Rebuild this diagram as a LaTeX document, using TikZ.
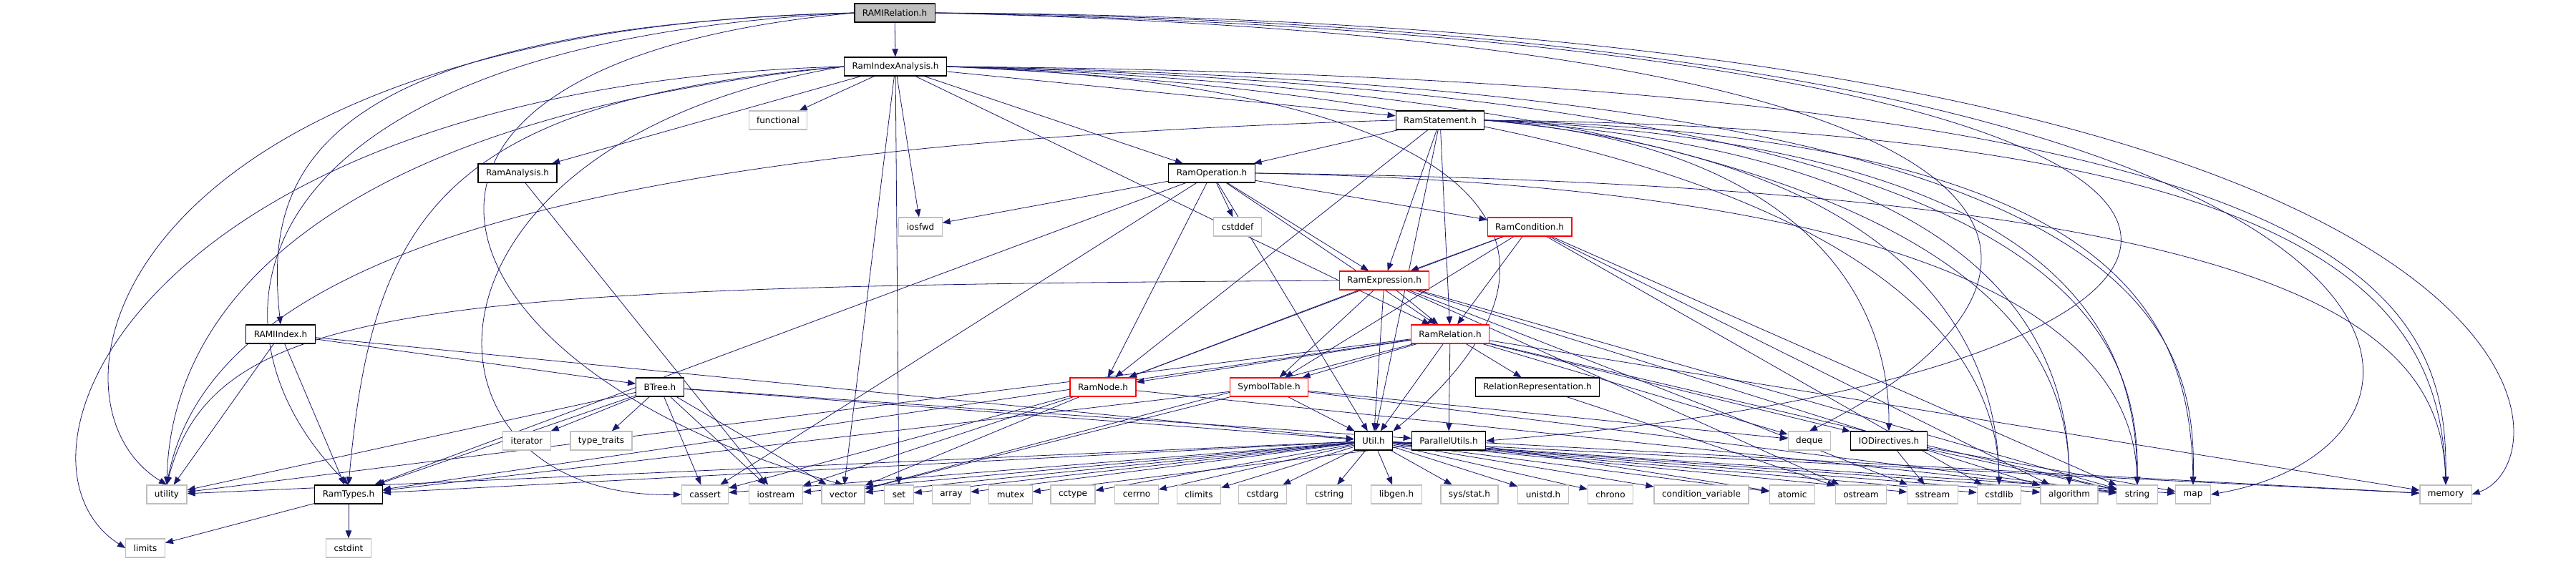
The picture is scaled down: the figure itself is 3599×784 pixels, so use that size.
\documentclass[tikz,border=0pt]{standalone}
\usepackage{fontspec}
\setmainfont{DejaVu Sans}
\usetikzlibrary{arrows.meta,backgrounds}
\definecolor{edgeblue}{HTML}{191970}
\definecolor{leafgrey}{HTML}{BFBFBF}
\tikzset{
  hdr/.style={draw=black, fill=white, line width=1.2pt, minimum height=26pt,
    inner xsep=11pt, font=\fontsize{12}{14}\selectfont},
  sys/.style={hdr, draw=leafgrey},
  trunc/.style={hdr, draw=red},
  root/.style={hdr, fill=leafgrey},
  dep/.style={draw=edgeblue, line width=0.8pt, -{Triangle[length=11pt,width=8.5pt]}}
}
\begin{document}
\begin{tikzpicture}[x=1pt,y=-1pt]
    \useasboundingbox (0,0) rectangle (3599,784);
    % Rank 0 to 5
    \node[root] (rr) at (1250,18) {RAMIRelation.h};
    \node[hdr] (ria) at (1251,93) {RamIndexAnalysis.h};
    \node[sys] (functional) at (1087,168) {functional};
    \node[hdr] (rst) at (2012,168) {RamStatement.h};
    \node[hdr] (ran) at (723,242) {RamAnalysis.h};
    \node[hdr] (rop) at (1693,242) {RamOperation.h};
    \node[sys] (iosfwd) at (1286,317) {iosfwd};
    \node[sys] (cstddef) at (1729,317) {cstddef};
    \node[trunc] (rco) at (2137,317) {RamCondition.h};
    \node[trunc] (rex) at (1934,392) {RamExpression.h};
    % Rank 6 to 8
    \node[hdr] (ridx) at (392,467) {RAMIIndex.h};
    \node[trunc] (rrel) at (2026,467) {RamRelation.h};
    \node[hdr] (btree) at (922,541) {BTree.h};
    \node[trunc] (rnode) at (1541,541) {RamNode.h};
    \node[trunc] (symtab) at (1773,541) {SymbolTable.h};
    \node[hdr] (relrep) at (2148,541) {RelationRepresentation.h};
    \node[sys] (iterator) at (736,616) {iterator};
    \node[sys] (typetraits) at (840,616) {type\_traits};
    \node[hdr] (util) at (1919,616) {Util.h};
    \node[hdr] (par) at (2024,616) {ParallelUtils.h};
    \node[sys] (deque) at (2528,616) {deque};
    \node[hdr] (iodir) at (2639,616) {IODirectives.h};
    % Rank 9 and 10
    \node[sys] (utility) at (233,691) {utility};
    \node[hdr] (ramtypes) at (487,691) {RamTypes.h};
    \node[sys] (cassert) at (985,691) {cassert};
    \node[sys] (iostream) at (1084,691) {iostream};
    \node[sys] (vector) at (1178,691) {vector};
    \node[sys] (set) at (1256,691) {set};
    \node[sys] (array) at (1329,691) {array};
    \node[sys] (mutex) at (1412,691) {mutex};
    \node[sys] (cctype) at (1499,691) {cctype};
    \node[sys] (cerrno) at (1588,691) {cerrno};
    \node[sys] (climits) at (1675,691) {climits};
    \node[sys] (cstdarg) at (1764,691) {cstdarg};
    \node[sys] (cstring) at (1857,691) {cstring};
    \node[sys] (libgen) at (1951,691) {libgen.h};
    \node[sys] (sysstat) at (2053,691) {sys/stat.h};
    \node[sys] (unistd) at (2156,691) {unistd.h};
    \node[sys] (chrono) at (2250,691) {chrono};
    \node[sys] (condvar) at (2377,691) {condition\_variable};
    \node[sys] (atomic) at (2504,691) {atomic};
    \node[sys] (ostream) at (2600,691) {ostream};
    \node[sys] (sstream) at (2700,691) {sstream};
    \node[sys] (cstdlib) at (2793,691) {cstdlib};
    \node[sys] (algorithm) at (2891,691) {algorithm};
    \node[sys] (string) at (2986,691) {string};
    \node[sys] (map) at (3064,691) {map};
    \node[sys] (memory) at (3417,691) {memory};
    \node[sys] (limits) at (203,766) {limits};
    \node[sys] (cstdint) at (487,766) {cstdint};

    \begin{scope}[on background layer]
    % RAMIRelation.h
    \draw[dep] (rr) -- (ria);
    \draw[dep] (rr.west) .. controls (420,40) and (370,250) .. (ridx.north);
    \draw[dep] (rr.west) .. controls (330,60) and (260,450) .. (ramtypes.north);
    \draw[dep] (rr.west) .. controls (150,40) and (40,560) .. (utility.north);
    \draw[dep] (rr.west) .. controls (420,90) and (600,520) .. (vector.north);
    \draw[dep] (rr.east) .. controls (3600,30) and (3600,640) .. (memory.east);
    \draw[dep] (rr.east) .. controls (3490,40) and (3500,620) .. (map.east);
    \draw[dep] (rr.east) .. controls (3440,60) and (3300,520) .. (par.east);
    \draw[dep] (rr.east) .. controls (3050,60) and (2900,420) .. (deque.north);
    % RamIndexAnalysis.h
    \draw[dep] (ria) -- (functional);
    \draw[dep] (ria) -- (ran);
    \draw[dep] (ria) -- (rst);
    \draw[dep] (ria) -- (rop);
    \draw[dep] (ria) -- (iosfwd);
    \draw[dep] (ria) -- (rrel);
    \draw[dep] (ria) -- (vector);
    \draw[dep] (ria) -- (set);
    \draw[dep] (ria.west) .. controls (200,120) and (-20,640) .. (limits.west);
    \draw[dep] (ria.west) .. controls (500,160) and (240,400) .. (utility.north);
    \draw[dep] (ria.west) .. controls (620,140) and (520,300) .. (ramtypes.north);
    \draw[dep] (ria.west) .. controls (540,200) and (560,700) .. (cassert.west);
    \draw[dep] (ria.east) .. controls (2100,120) and (2250,350) .. (util.north east);
    \draw[dep] (ria.east) .. controls (3300,110) and (3420,400) .. (memory.north);
    \draw[dep] (ria.east) .. controls (2950,120) and (3070,420) .. (map.north);
    \draw[dep] (ria.east) .. controls (2850,130) and (2990,430) .. (string.north);
    \draw[dep] (ria.east) .. controls (2700,140) and (2890,440) .. (algorithm.north);
    \draw[dep] (ria.east) .. controls (2550,150) and (2790,450) .. (cstdlib.north);
    % RamStatement.h
    \draw[dep] (rst) -- (rop);
    \draw[dep] (rst) -- (rex);
    \draw[dep] (rst) -- (rrel);
    \draw[dep] (rst) -- (rnode);
    \draw[dep] (rst) -- (util);
    \draw[dep] (rst.west) .. controls (900,200) and (300,330) .. (utility.north);
    \draw[dep] (rst.east) .. controls (3250,180) and (3410,420) .. (memory.north);
    \draw[dep] (rst.east) .. controls (2950,190) and (3060,430) .. (map.north);
    \draw[dep] (rst.east) .. controls (2850,200) and (2985,440) .. (string.north);
    \draw[dep] (rst.east) .. controls (2750,210) and (2890,450) .. (algorithm.north);
    \draw[dep] (rst.east) .. controls (2650,220) and (2790,460) .. (cstdlib.north);
    \draw[dep] (rst.east) .. controls (2500,200) and (2640,400) .. (iodir.north);
    % RamAnalysis.h
    \draw[dep] (ran) -- (iostream);
    % RamOperation.h
    \draw[dep] (rop) -- (iosfwd);
    \draw[dep] (rop) -- (cstddef);
    \draw[dep] (rop) -- (rco);
    \draw[dep] (rop) -- (rex);
    \draw[dep] (rop) -- (rrel);
    \draw[dep] (rop) -- (rnode);
    \draw[dep] (rop) -- (util);
    \draw[dep] (rop) -- (ramtypes);
    \draw[dep] (rop) -- (cassert);
    \draw[dep] (rop.east) .. controls (2700,260) and (2980,450) .. (string.north);
    \draw[dep] (rop.east) .. controls (3200,260) and (3410,450) .. (memory.north);
    % RamCondition.h
    \draw[dep] (rco) -- (rex);
    \draw[dep] (rco) -- (rrel);
    \draw[dep] (rco) -- (rnode);
    \draw[dep] (rco) -- (symtab);
    \draw[dep] (rco) -- (string);
    \draw[dep] (rco) -- (algorithm);
    \draw[dep] (rco) -- (cstdlib);
    % RamExpression.h
    \draw[dep] (rex) -- (rrel);
    \draw[dep] (rex) -- (rnode);
    \draw[dep] (rex) -- (symtab);
    \draw[dep] (rex) -- (util);
    \draw[dep] (rex.west) .. controls (600,400) and (300,420) .. (utility.north);
    \draw[dep] (rex) -- (string);
    \draw[dep] (rex) -- (ostream);
    \draw[dep] (rex) -- (sstream);
    \draw[dep] (rex) -- (algorithm);
    % RAMIIndex.h
    \draw[dep] (ridx) -- (utility);
    \draw[dep] (ridx) -- (ramtypes);
    \draw[dep] (ridx) -- (btree);
    \draw[dep] (ridx) -- (util);
    % RamRelation.h
    \draw[dep] (rrel) -- (rnode);
    \draw[dep] (rrel) -- (symtab);
    \draw[dep] (rrel) -- (relrep);
    \draw[dep] (rrel) -- (util);
    \draw[dep] (rrel) -- (par);
    \draw[dep] (rrel) -- (iodir);
    \draw[dep] (rrel) -- (deque);
    \draw[dep] (rrel) -- (utility);
    \draw[dep] (rrel) -- (ramtypes);
    \draw[dep] (rrel) -- (vector);
    \draw[dep] (rrel) -- (string);
    \draw[dep] (rrel) -- (memory);
    % BTree.h
    \draw[dep] (btree) -- (iterator);
    \draw[dep] (btree) -- (typetraits);
    \draw[dep] (btree) -- (cassert);
    \draw[dep] (btree) -- (iostream);
    \draw[dep] (btree) -- (vector);
    \draw[dep] (btree) -- (utility);
    \draw[dep] (btree) -- (ramtypes);
    \draw[dep] (btree) -- (util);
    \draw[dep] (btree) -- (par);
    % RamNode.h
    \draw[dep] (rnode) -- (cassert);
    \draw[dep] (rnode) -- (iostream);
    \draw[dep] (rnode) -- (vector);
    \draw[dep] (rnode) -- (string);
    % SymbolTable.h
    \draw[dep] (symtab) -- (util);
    \draw[dep] (symtab) -- (deque);
    \draw[dep] (symtab) -- (ramtypes);
    \draw[dep] (symtab) -- (vector);
    \draw[dep] (symtab) -- (string);
    % RelationRepresentation.h
    \draw[dep] (relrep) -- (ostream);
    % Util.h
    \draw[dep] (util) -- (ramtypes);
    \draw[dep] (util) -- (utility);
    \draw[dep] (util) -- (cassert);
    \draw[dep] (util) -- (iostream);
    \draw[dep] (util) -- (vector);
    \draw[dep] (util) -- (set);
    \draw[dep] (util) -- (array);
    \draw[dep] (util) -- (cctype);
    \draw[dep] (util) -- (cerrno);
    \draw[dep] (util) -- (climits);
    \draw[dep] (util) -- (cstdarg);
    \draw[dep] (util) -- (cstring);
    \draw[dep] (util) -- (libgen);
    \draw[dep] (util) -- (sysstat);
    \draw[dep] (util) -- (unistd);
    \draw[dep] (util) -- (chrono);
    \draw[dep] (util) -- (condvar);
    \draw[dep] (util) -- (atomic);
    \draw[dep] (util) -- (sstream);
    \draw[dep] (util) -- (cstdlib);
    \draw[dep] (util) -- (algorithm);
    \draw[dep] (util) -- (string);
    \draw[dep] (util) -- (map);
    \draw[dep] (util) -- (memory);
    % ParallelUtils.h
    \draw[dep] (par) -- (mutex);
    \draw[dep] (par) -- (atomic);
    \draw[dep] (par) -- (memory);
    % IODirectives.h
    \draw[dep] (iodir) -- (sstream);
    \draw[dep] (iodir) -- (string);
    \draw[dep] (iodir) -- (map);
    % RamTypes.h
    \draw[dep] (ramtypes) -- (limits);
    \draw[dep] (ramtypes) -- (cstdint);
    \end{scope}
\end{tikzpicture}
\end{document}
